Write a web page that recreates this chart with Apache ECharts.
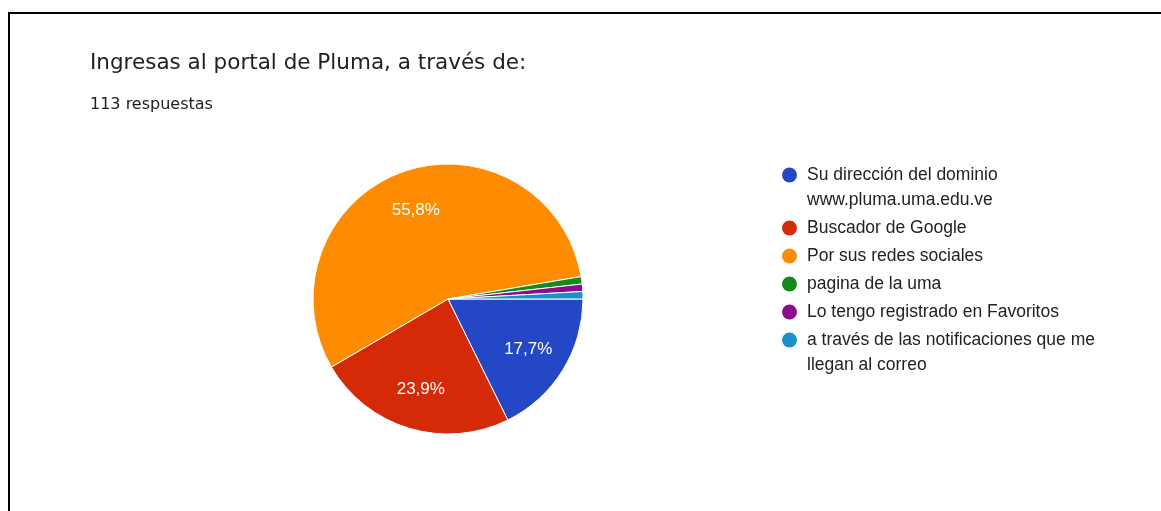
<!DOCTYPE html>
<html>
<head>
<meta charset="utf-8">
<script src="https://cdn.jsdelivr.net/npm/echarts@6/dist/echarts.min.js"></script>
<style>
  html, body { margin: 0; padding: 0; background: #fff; }
  #chart { position: absolute; left: 0; top: 0; width: 1161px; height: 511px; }
  #frame { position: absolute; left: 8px; top: 12px; right: 0; bottom: 0;
           border-top: 2px solid #000; border-left: 2px solid #000; pointer-events: none; }
</style>
</head>
<body>
<div id="chart"></div>
<div id="frame"></div>
<script>
// Survey answers (113 responses)
const titleText = 'Ingresas al portal de Pluma, a través de:';
const subtitleText = '113 respuestas';
const categories = [
  'Su dirección del dominio www.pluma.uma.edu.ve',
  'Buscador de Google',
  'Por sus redes sociales',
  'pagina de la uma',
  'Lo tengo registrado en Favoritos',
  'a través de las notificaciones que me llegan al correo'
];
// Legend text, wrapped over two lines where it is long
const legendLines = [
  ['Su dirección del dominio', 'www.pluma.uma.edu.ve'],
  ['Buscador de Google'],
  ['Por sus redes sociales'],
  ['pagina de la uma'],
  ['Lo tengo registrado en Favoritos'],
  ['a través de las notificaciones que me', 'llegan al correo']
];
const counts = [20, 27, 63, 1, 1, 1];
const colors = ['#2447c6', '#d42a08', '#ff8b00', '#138a1d', '#8c0c8c', '#1a91c8'];

const total = counts.reduce((a, b) => a + b, 0);
const pieCenter = [448, 299];
const pieRadius = 135;
// slice labels sit at this fraction of the radius
const labelRadiusFrac = 0.7;

const chart = echarts.init(document.getElementById('chart'));

// legend drawn as circles + text
const legendGraphics = [];
let ly = 175;
const wrapH = 25;
const itemStep = 28;
legendLines.forEach((lines, i) => {
  legendGraphics.push({
    type: 'circle', shape: { cx: 789.5, cy: ly, r: 7.5 },
    style: { fill: colors[i] }, silent: true
  });
  lines.forEach((t, k) => {
    legendGraphics.push({
      type: 'text', x: 807, y: ly + k * wrapH,
      style: { text: t, fill: '#222', font: '17.5px "Liberation Sans", Arial, sans-serif',
               textVerticalAlign: 'middle' },
      silent: true
    });
  });
  ly += (lines.length - 1) * wrapH + itemStep;
});

chart.setOption({
  animation: false,
  title: [{
    left: 85, top: 46,
    text: titleText,
    textStyle: { fontFamily: '"DejaVu Sans", sans-serif', fontSize: 21.5, lineHeight: 24,
                 fontWeight: 'normal', color: '#202124' }
  }, {
    left: 85, top: 91,
    text: subtitleText,
    textStyle: { fontFamily: '"DejaVu Sans", sans-serif', fontSize: 16, lineHeight: 18,
                 fontWeight: 'normal', color: '#202124' }
  }],
  graphic: legendGraphics,
  series: [{
    type: 'pie',
    center: pieCenter,
    radius: pieRadius,
    startAngle: 0,
    clockwise: true,
    avoidLabelOverlap: false,
    itemStyle: { borderColor: '#fff', borderWidth: 1 },
    label: {
      show: true,
      position: 'inside',
      color: '#fff',
      fontFamily: '"Liberation Sans", Arial, sans-serif',
      fontSize: 17,
      formatter: p => (p.value / total * 100).toFixed(1).replace('.', ',') + '%'
    },
    labelLine: { show: false },
    labelLayout: function (params) {
      const r = params.labelRect;
      const lx = r.x + r.width / 2 - pieCenter[0];
      const ly2 = r.y + r.height / 2 - pieCenter[1];
      const d = Math.sqrt(lx * lx + ly2 * ly2) || 1;
      const s = labelRadiusFrac * pieRadius / d;
      return { dx: lx * (s - 1), dy: ly2 * (s - 1) };
    },
    data: categories.map((name, i) => ({
      name: name,
      value: counts[i],
      itemStyle: { color: colors[i] },
      label: { show: counts[i] / total >= 0.05 }
    }))
  }]
});
</script>
</body>
</html>
